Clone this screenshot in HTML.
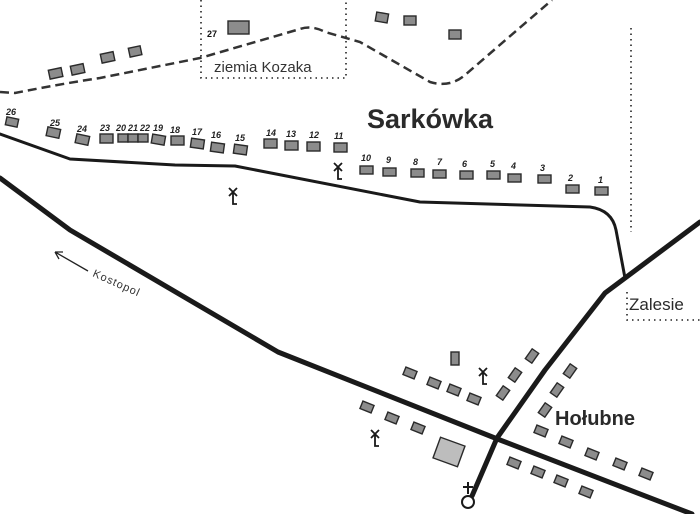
<!DOCTYPE html>
<html><head><meta charset="utf-8"><style>
html,body{margin:0;padding:0;background:#fff;}
svg{display:block;font-family:"Liberation Sans",sans-serif;}
</style></head><body>
<svg width="700" height="514" viewBox="0 0 700 514" xmlns="http://www.w3.org/2000/svg">
<rect width="700" height="514" fill="#fff"/>
<!-- dotted boxes -->
<g fill="none" stroke="#222" stroke-width="1.6" stroke-dasharray="1.5 4">
<path d="M201 0 V78 H346 V0"/>
<path d="M631 28 V232"/>
<path d="M627 292 V320 H700"/>
</g>
<!-- dashed boundary -->
<path d="M0 92 L15 93 Q60 84 100 78 L200 58 L300 29 Q312 25 325 32 L360 42 L430 82 Q450 88 465 75 L552 0" fill="none" stroke="#333" stroke-width="2.5" stroke-dasharray="9 5"/>
<!-- roads -->
<g fill="none" stroke="#1a1a1a" stroke-linecap="round" stroke-linejoin="round">
<path d="M0 134 L70 159 L175 165 L235 166 L420 202 L590 207 Q612 210 616 230 L625 278" stroke-width="3"/>
<path d="M0 178 L70 230 L278 352 L500 440 L692 514" stroke-width="5"/>
<path d="M700 222 L605 293 L545 370 L497 438 L472 496" stroke-width="5"/>
</g>
<circle cx="468" cy="502" r="6" fill="#fff" stroke="#1a1a1a" stroke-width="2"/>
<path d="M468 482 V494 M463 487 H473" stroke="#1a1a1a" stroke-width="2"/>
<!-- houses -->
<g fill="#8c8c8c" stroke="#2a2a2a" stroke-width="1.4">
<rect x="49" y="69" width="13" height="9" transform="rotate(-12 55 73)"/>
<rect x="71" y="65" width="13" height="9" transform="rotate(-12 77 69)"/>
<rect x="101" y="53" width="13" height="9" transform="rotate(-12 107 57)"/>
<rect x="129" y="47" width="12" height="9" transform="rotate(-12 135 51)"/>
<rect x="228" y="21" width="21" height="13"/>
<rect x="376" y="13" width="12" height="9" transform="rotate(10 382 17)"/>
<rect x="404" y="16" width="12" height="9"/>
<rect x="449" y="30" width="12" height="9"/>
<!-- Sarkowka row -->
<rect x="6" y="118" width="12" height="8" transform="rotate(12 12 122)"/>
<rect x="47" y="128" width="13" height="9" transform="rotate(12 53 132)"/>
<rect x="76" y="135" width="13" height="9" transform="rotate(12 82 139)"/>
<rect x="100" y="134" width="13" height="9"/>
<rect x="118" y="134" width="10" height="8"/>
<rect x="128" y="134" width="10" height="8"/>
<rect x="138" y="134" width="10" height="8"/>
<rect x="152" y="135" width="13" height="9" transform="rotate(10 158 139)"/>
<rect x="171" y="136" width="13" height="9"/>
<rect x="191" y="139" width="13" height="9" transform="rotate(8 197 143)"/>
<rect x="211" y="143" width="13" height="9" transform="rotate(8 217 147)"/>
<rect x="234" y="145" width="13" height="9" transform="rotate(8 240 149)"/>
<rect x="264" y="139" width="13" height="9"/>
<rect x="285" y="141" width="13" height="9"/>
<rect x="307" y="142" width="13" height="9"/>
<rect x="334" y="143" width="13" height="9"/>
<rect x="360" y="166" width="13" height="8"/>
<rect x="383" y="168" width="13" height="8"/>
<rect x="411" y="169" width="13" height="8"/>
<rect x="433" y="170" width="13" height="8"/>
<rect x="460" y="171" width="13" height="8"/>
<rect x="487" y="171" width="13" height="8"/>
<rect x="508" y="174" width="13" height="8"/>
<rect x="538" y="175" width="13" height="8"/>
<rect x="566" y="185" width="13" height="8"/>
<rect x="595" y="187" width="13" height="8"/>
<!-- Holubne -->
<rect x="451" y="352" width="8" height="13"/>
<rect x="404" y="369" width="12" height="8" transform="rotate(22 410 373)"/>
<rect x="428" y="379" width="12" height="8" transform="rotate(22 434 383)"/>
<rect x="448" y="386" width="12" height="8" transform="rotate(22 454 390)"/>
<rect x="468" y="395" width="12" height="8" transform="rotate(22 474 399)"/>
<rect x="361" y="403" width="12" height="8" transform="rotate(22 367 407)"/>
<rect x="386" y="414" width="12" height="8" transform="rotate(22 392 418)"/>
<rect x="412" y="424" width="12" height="8" transform="rotate(22 418 428)"/>
<rect x="526" y="352" width="12" height="8" transform="rotate(-55 532 356)"/>
<rect x="509" y="371" width="12" height="8" transform="rotate(-55 515 375)"/>
<rect x="497" y="389" width="12" height="8" transform="rotate(-55 503 393)"/>
<rect x="564" y="367" width="12" height="8" transform="rotate(-55 570 371)"/>
<rect x="551" y="386" width="12" height="8" transform="rotate(-55 557 390)"/>
<rect x="539" y="406" width="12" height="8" transform="rotate(-55 545 410)"/>
<rect x="535" y="427" width="12" height="8" transform="rotate(22 541 431)"/>
<rect x="560" y="438" width="12" height="8" transform="rotate(22 566 442)"/>
<rect x="586" y="450" width="12" height="8" transform="rotate(22 592 454)"/>
<rect x="614" y="460" width="12" height="8" transform="rotate(22 620 464)"/>
<rect x="640" y="470" width="12" height="8" transform="rotate(22 646 474)"/>
<rect x="508" y="459" width="12" height="8" transform="rotate(22 514 463)"/>
<rect x="532" y="468" width="12" height="8" transform="rotate(22 538 472)"/>
<rect x="555" y="477" width="12" height="8" transform="rotate(22 561 481)"/>
<rect x="580" y="488" width="12" height="8" transform="rotate(22 586 492)"/>
</g>
<rect x="436" y="441" width="26" height="22" fill="#bdbdbd" stroke="#2a2a2a" stroke-width="1.4" transform="rotate(20 449 452)"/>
<!-- windmills -->
<g stroke="#1a1a1a" stroke-width="1.8" fill="none">
<path d="M229 188 L237 196 M237 188 L229 196 M233 192 V204 H237"/>
<path d="M334 163 L342 171 M342 163 L334 171 M338 167 V179 H342"/>
<path d="M479 368 L487 376 M487 368 L479 376 M483 372 V384 H487"/>
<path d="M371 430 L379 438 M379 430 L371 438 M375 434 V446 H379"/>
</g>
<!-- Kostopol arrow -->
<path d="M88 271 L55 252 M55 252 L63 252 M55 252 L59 259" stroke="#222" stroke-width="1.3" fill="none"/>
<text x="92" y="276" font-size="11" fill="#333" letter-spacing="1" transform="rotate(24 92 276)">Kostopol</text>
<!-- labels -->
<g font-size="9" font-style="italic" font-weight="bold" fill="#222">
<text x="6" y="115">26</text><text x="50" y="126">25</text><text x="77" y="132">24</text>
<text x="100" y="131">23</text><text x="116" y="131">20</text><text x="128" y="131">21</text><text x="140" y="131">22</text>
<text x="153" y="131">19</text><text x="170" y="133">18</text><text x="192" y="135">17</text><text x="211" y="138">16</text>
<text x="235" y="141">15</text><text x="266" y="136">14</text><text x="286" y="137">13</text><text x="309" y="138">12</text><text x="334" y="139">11</text>
<text x="361" y="161">10</text><text x="386" y="163">9</text><text x="413" y="165">8</text><text x="437" y="165">7</text>
<text x="462" y="167">6</text><text x="490" y="167">5</text><text x="511" y="169">4</text><text x="540" y="171">3</text>
<text x="568" y="181">2</text><text x="598" y="183">1</text>
</g>
<text x="207" y="37" font-size="9" font-weight="bold" fill="#111">27</text>
<text x="214" y="72" font-size="15" fill="#333">ziemia Kozaka</text>
<text x="367" y="128" font-size="27" font-weight="bold" fill="#2a2a2a">Sarkówka</text>
<text x="555" y="425" font-size="20" font-weight="bold" fill="#2a2a2a">Hołubne</text>
<text x="629" y="310" font-size="17" fill="#2a2a2a">Zalesie</text>
</svg>
</body></html>
